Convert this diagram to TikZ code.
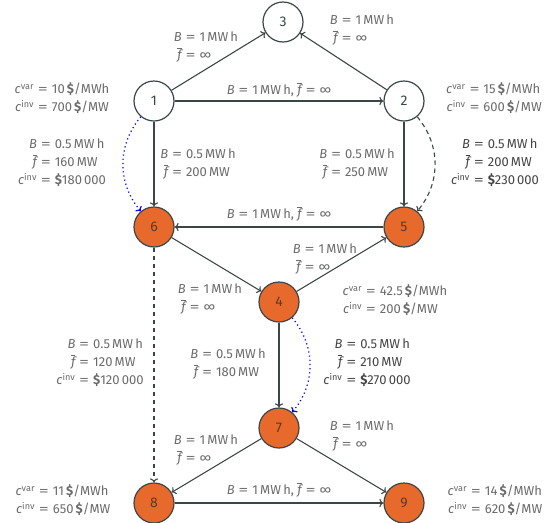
\documentclass[tikz,border=0pt]{standalone}
\usepackage{fontspec}
\setmainfont{Fira Sans}
\usetikzlibrary{arrows.meta}
\definecolor{edgec}{HTML}{3B4646}
\definecolor{lab}{HTML}{6B6B6B}
\definecolor{labd}{HTML}{444444}
\definecolor{ofill}{HTML}{E8692C}
\definecolor{otext}{HTML}{5A3A28}
\newcommand{\Bv}{{\itshape B}}
\newcommand{\fb}{\(\overline{\mbox{\itshape f}}\)}
\newcommand{\eqs}{\hspace{0.3em}\scalebox{1.55}[1.0]{=}\hspace{0.3em}}
\newcommand{\cv}{{\itshape c}\textsuperscript{var}}
\newcommand{\ci}{{\itshape c}\textsuperscript{inv}}
\newcommand{\dol}{\textbf{\$}}
\newcommand{\infsym}{∞}
\newcommand{\twoline}[4]{\begin{tabular}{@{}r@{\eqs}l@{}}#1 & #2\\ #3 & #4\end{tabular}}
\newcommand{\threeline}[6]{\begin{tabular}{@{}r@{\eqs}l@{}}#1 & #2\\ #3 & #4\\ #5 & #6\end{tabular}}
\tikzset{
  vtx/.style={circle, draw=edgec, line width=1.2pt, minimum size=40pt, inner sep=0pt, font=\fontsize{14}{16}\selectfont},
  newv/.style={vtx, fill=ofill, text=otext},
  oldv/.style={vtx, fill=white, text=edgec},
  lbl/.style={text=lab, font=\fontsize{13}{18}\selectfont, inner sep=0pt},
  lbld/.style={lbl, text=labd},
  edge/.style={draw=edgec, line width=1.1pt, -{To[length=4pt,width=8pt]}},
  dedge/.style={edge, dash pattern=on 4.5pt off 3.5pt},
  bedge/.style={draw=blue, line width=1.2pt, dash pattern=on 1.2pt off 3pt, -{To[length=4pt,width=8pt]}},
}
\begin{document}
\begin{tikzpicture}[x=1pt,y=1pt]
\useasboundingbox (0,0) rectangle (550,-523);
% vertices
\node[oldv] (n3) at (283,-22) {3};
\node[oldv] (n1) at (154,-101) {1};
\node[oldv] (n2) at (404,-101) {2};
\node[newv] (n6) at (154,-227) {6};
\node[newv] (n5) at (404,-227) {5};
\node[newv] (n4) at (279,-302) {4};
\node[newv] (n7) at (279,-428) {7};
\node[newv] (n8) at (154,-503) {8};
\node[newv] (n9) at (404,-503) {9};
% edges
\draw[edge] (n1) -- (n3);
\draw[edge] (n2) -- (n3);
\draw[edge] (n1) -- (n2);
\draw[edge] (n1) -- (n6);
\draw[bedge] (n1) to[bend right=40] (n6);
\draw[edge] (n2) -- (n5);
\draw[dedge] (n2) to[bend left=40] (n5);
\draw[edge] (n5) -- (n6);
\draw[edge] (n6) -- (n4);
\draw[edge] (n4) -- (n5);
\draw[edge] (n4) -- (n7);
\draw[bedge] (n4) to[bend left=40] (n7);
\draw[dedge] (n6) -- (n8);
\draw[edge] (n7) -- (n8);
\draw[edge] (n7) -- (n9);
\draw[edge] (n8) -- (n9);
% edge labels
\node[lbl] (l13) at (206,-47) {\twoline{\Bv}{1\,MW\,h}{\fb}{\infsym}};
\node[lbl] (l23) at (362,-30) {\twoline{\Bv}{1\,MW\,h}{\fb}{\infsym}};
\node[lbl] (l12) at (279,-90) {\Bv\eqs 1\,MW\,h, \fb\eqs\infsym};
\node[lbl] (l16) at (198,-164) {\twoline{\Bv}{0.5\,MW\,h}{\fb}{200\,MW}};
\node[lbl] (l25) at (357,-164) {\twoline{\Bv}{0.5\,MW\,h}{\fb}{250\,MW}};
\node[lbl] (l16i) at (62,-163) {\threeline{\Bv}{0.5\,MW\,h}{\fb}{160\,MW}{\ci}{\dol180\,000}};
\node[lbld] (l25i) at (495,-163) {\threeline{\Bv}{0.5\,MW\,h}{\fb}{200\,MW}{\ci}{\dol230\,000}};
\node[lbl] (l56) at (279,-214) {\Bv\eqs 1\,MW\,h, \fb\eqs\infsym};
\node[lbl] (l45) at (325,-259) {\twoline{\Bv}{1\,MW\,h}{\fb}{\infsym}};
\node[lbl] (l64) at (210,-299) {\twoline{\Bv}{1\,MW\,h}{\fb}{\infsym}};
\node[lbl] (l47) at (228,-364) {\twoline{\Bv}{0.5\,MW\,h}{\fb}{180\,MW}};
\node[lbl] (l68i) at (100,-363) {\threeline{\Bv}{0.5\,MW\,h}{\fb}{120\,MW}{\ci}{\dol120\,000}};
\node[lbld] (l47i) at (367,-363) {\threeline{\Bv}{0.5\,MW\,h}{\fb}{210\,MW}{\ci}{\dol270\,000}};
\node[lbl] (l78) at (206,-450) {\twoline{\Bv}{1\,MW\,h}{\fb}{\infsym}};
\node[lbl] (l79) at (362,-436) {\twoline{\Bv}{1\,MW\,h}{\fb}{\infsym}};
\node[lbl] (l89) at (279,-490) {\Bv\eqs 1\,MW\,h, \fb\eqs\infsym};
% vertex cost labels
\node[lbl] (c1) at (62,-99) {\twoline{\cv}{10\,\dol/MWh}{\ci}{700\,\dol/MW}};
\node[lbl] (c2) at (494,-99) {\twoline{\cv}{15\,\dol/MWh}{\ci}{600\,\dol/MW}};
\node[lbl] (c4) at (395,-301) {\twoline{\cv}{42.5\,\dol/MWh}{\ci}{200\,\dol/MW}};
\node[lbl] (c8) at (63,-501) {\twoline{\cv}{11\,\dol/MWh}{\ci}{650\,\dol/MW}};
\node[lbl] (c9) at (495,-501) {\twoline{\cv}{14\,\dol/MWh}{\ci}{620\,\dol/MW}};
\end{tikzpicture}
\end{document}
